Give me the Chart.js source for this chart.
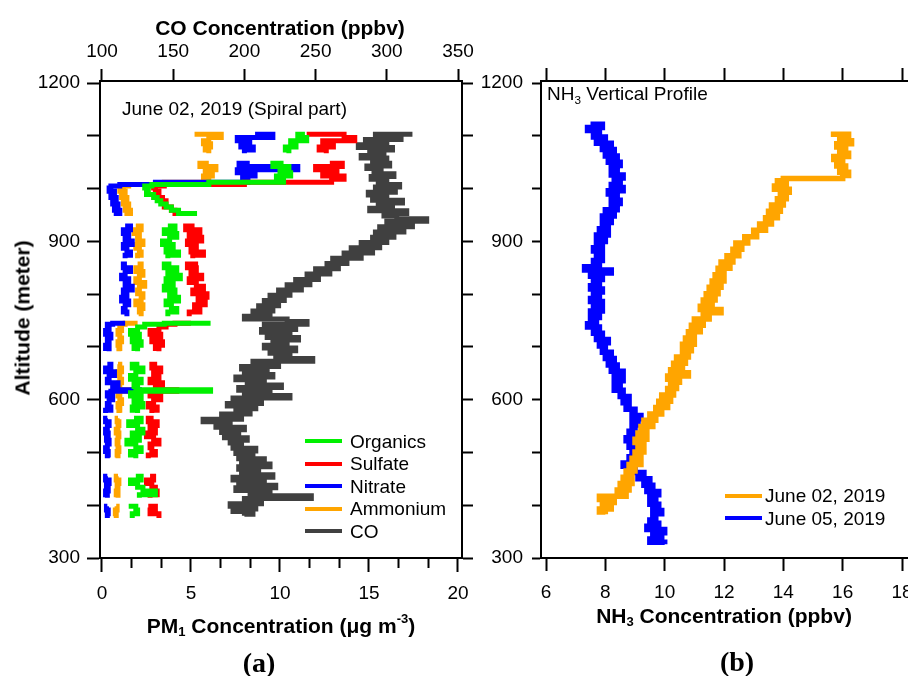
<!DOCTYPE html>
<html>
<head>
<meta charset="utf-8">
<title>PM1, CO and NH3 vertical profiles</title>
<script src="https://cdn.jsdelivr.net/npm/chart.js@4.4.1/dist/chart.umd.min.js"></script>
<style>
  html, body { margin: 0; padding: 0; background: #fff; }
  #page { position: relative; width: 908px; height: 676px; overflow: hidden;
          font-family: "Liberation Sans", Arial, sans-serif; color: #000; }
  canvas { position: absolute; top: 0; }
  #left { left: 0; }
  #right { left: 480px; }
  .lbl { position: absolute; white-space: nowrap; line-height: 1; transform: translate(-50%, -50%); }
  .ttl { font-weight: bold; font-size: 21px; }
  .note { position: absolute; font-size: 19px; line-height: 1; white-space: nowrap; }
  .panel { font-family: "Liberation Serif", "Times New Roman", serif; font-weight: bold; font-size: 28px; }
  sub, sup { font-size: 0.62em; line-height: 0; }
  sub { vertical-align: -0.3em; }
  sup { vertical-align: 0.75em; }
  .legend { position: absolute; font-size: 19px; line-height: 1; }
  .legend div { position: relative; height: 22.5px; width: 160px; white-space: nowrap; }
  .legend i { position: absolute; left: 0; top: 9.25px; width: 37px; height: 4px; }
  .legend span { position: absolute; top: 1.75px; }
</style>
</head>
<body>
<div id="page">
  <canvas id="left" width="480" height="676"></canvas>
  <canvas id="right" width="428" height="676"></canvas>

  <div class="lbl ttl" style="left:280px; top:27px;">CO Concentration (ppbv)</div>
  <div class="lbl ttl" style="left:22px; top:318px; transform: translate(-50%, -50%) rotate(-90deg);">Altitude (meter)</div>
  <div class="note" style="left:122px; top:99px;">June 02, 2019 (Spiral part)</div>
  <div class="lbl ttl" style="left:281px; top:625px;">PM<sub>1</sub> Concentration (μg m<sup>-3</sup>)</div>
  <div class="lbl panel" style="left:259px; top:663px;">(a)</div>

  <div class="note" style="left:547px; top:84px;">NH<sub>3</sub> Vertical Profile</div>
  <div class="lbl ttl" style="left:724px; top:615px;">NH<sub>3</sub> Concentration (ppbv)</div>
  <div class="lbl panel" style="left:737px; top:662px;">(b)</div>

  <div class="legend" id="legendA" style="left:305px; top:429.75px;"></div>
  <div class="legend" id="legendB" style="left:725px; top:484.5px;"></div>
</div>

<script>
// ---- panel (a): aerosol species, one altitude list shared by the four species (null = no data)
const altPM = [
  1103, 1097, 1091, 1085, 1079, 1073, 1067,
  1058,
  1048, 1042, 1036, 1030, 1024, 1018, 1012, 1008, 1005,
  1001, 995, 989, 983, 977, 971, 965, 959, 953, 948,
  938,
  929, 922, 915, 908, 901, 894, 887, 880, 874, 868,
  862,
  857, 850, 843, 836, 829, 822, 815, 808, 801, 794, 787, 780, 773, 766, 758,
  751,
  745, 743, 738, 731, 724, 717, 710, 703, 697, 692,
  680,
  667, 660, 653, 646, 639, 632, 625, 619, 616, 613, 607, 600, 593, 586, 580, 575,
  570,
  565, 558, 551, 544, 537, 530, 523, 516, 509, 502, 495, 489,
  472,
  455, 448, 441, 434, 427, 420, 414,
  406,
  398, 391, 384, 376
];

const organics = [
  11.4, 11.0, 11.5, 10.6, 10.9, 10.3, 10.5,
  null,
  10.2, 9.6, 10.5, 10.0, 10.6, 9.8, 10.2, 6.0, 2.8,
  2.4, 2.6, 2.5, 2.9, 3.1, 3.3, 3.6, 3.9, 4.3, 5.2,
  null,
  3.7, 4.1, 3.5, 4.2, 3.8, 3.4, 4.0, 3.6, 4.3, 3.7,
  null,
  3.9, 3.5, 4.2, 3.7, 4.4, 3.6, 4.0, 3.5, 4.1, 3.8, 4.3, 3.6, 3.9, 4.2, 3.7,
  null,
  6.1, 3.5, 2.4, 2.0, 1.6, 2.1, 1.7, 2.2, 1.8, 2.0,
  null,
  2.1, 1.7, 2.3, 1.9, 1.6, 2.2, 1.8, 2.0, 6.1, 1.9, 1.6, 2.2, 1.8, 2.3, 1.7, 2.0,
  null,
  1.8, 2.2, 1.5, 2.0, 2.3, 1.7, 2.1, 1.4, 1.9, 2.2, 1.6, 1.9,
  null,
  1.9, 2.2, 1.6, 2.0, 2.3, 3.0, 2.1,
  null,
  1.5, 1.9, 2.0, 1.7
];

const sulfate = [
  11.5, 13.6, 14.2, 12.4, 13.0, 12.2, 12.6,
  null,
  12.8, 13.5, 12.0, 13.2, 12.4, 13.6, 12.9, 8.0, 3.5,
  2.9, 3.0, 3.2, 3.1, 3.4, 3.6, 3.5, 3.9, 4.1, 4.4,
  null,
  5.2, 4.7, 5.5, 4.9, 5.6, 4.8, 5.3, 5.0, 5.7, 5.1,
  null,
  5.4, 4.8, 5.3, 5.0, 5.6, 4.9, 5.3, 5.7, 5.1, 5.9, 5.4, 5.8, 5.2, 5.5, 4.9,
  null,
  5.0, 4.1, 3.6, 3.2, 2.7, 3.3, 2.8, 3.4, 3.0, 3.2,
  null,
  3.1, 2.8, 3.3, 2.9, 3.2, 2.7, 3.4, 3.0, 4.2, 3.1, 2.7, 3.3, 2.9, 2.6, 3.1, 2.8,
  null,
  2.9, 2.6, 3.1, 2.7, 3.0, 2.5, 2.9, 3.2, 2.7, 2.8, 3.0, 2.6,
  null,
  2.7, 2.9, 2.5, 2.8, 3.0, 3.1, 2.7,
  null,
  2.6, 3.0, 2.7, 3.2
];

const nitrate = [
  8.6, 9.6, 7.6, 8.3, 7.8, 8.5, 8.0,
  null,
  8.3, 7.7, 11.0, 7.6, 8.6, 7.9, 8.2, 3.0, 1.0,
  0.5, 0.4, 0.7, 0.5, 0.8, 0.6, 0.9, 0.7, 1.0, 0.8,
  null,
  1.3, 1.6, 1.2, 1.5, 1.3, 1.7, 1.2, 1.4, 1.6, 1.3,
  null,
  1.4, 1.2, 1.6, 1.3, 1.1, 1.5, 1.3, 1.7, 1.2, 1.4, 1.1, 1.5, 1.3, 1.2, 1.4,
  null,
  1.3, 0.6, 0.3, 0.4, 0.2, 0.5, 0.3, 0.4, 0.2, 0.4,
  null,
  0.3, 0.5, 0.2, 0.7, 0.4, 0.3, 0.9, 0.6, 2.1, 0.5, 0.3, 0.6, 0.4, 0.3, 0.5, 0.2,
  null,
  0.3, 0.2, 0.4, 0.3, 0.2, 0.35, 0.25, 0.4, 0.3, 0.2, 0.35, 0.3,
  null,
  0.3, 0.2, 0.4, 0.25, 0.35, 0.2, 0.3,
  null,
  0.3, 0.25, 0.35, 0.3
];

const ammonium = [
  5.2, 6.7, 6.0, 5.7, 6.1, 5.8, 6.0,
  null,
  6.0, 5.5, 6.4, 5.8, 6.2, 5.7, 6.0, 3.5, 1.5,
  1.2, 1.0, 1.3, 1.1, 1.4, 1.2, 1.5, 1.3, 1.6, 1.4,
  null,
  1.9, 2.2, 1.8, 2.1, 2.0, 2.3, 1.9, 2.1, 2.2, 2.0,
  null,
  2.0, 2.2, 1.9, 2.3, 2.1, 1.9, 2.4, 2.1, 2.0, 2.3, 2.2, 1.9, 2.3, 2.1, 2.2,
  null,
  2.0, 1.3, 1.0, 1.1, 0.9, 1.0, 1.1, 0.9, 1.0, 0.95,
  null,
  0.9, 1.0, 1.1, 0.9, 1.0, 1.1, 0.95, 1.0, 1.9, 1.0, 0.9, 1.0, 1.1, 0.9, 1.0, 0.95,
  null,
  0.9, 0.85, 0.95, 0.9, 0.8, 0.95, 0.9, 0.85, 0.9, 0.95, 0.85, 0.9,
  null,
  0.9, 0.8, 0.95, 0.85, 0.9, 0.8, 0.9,
  null,
  0.8, 0.85, 0.75, 0.8
];

// ---- panel (a): CO (top axis)
const altCO = [
  1103, 1098, 1093, 1088, 1083, 1078, 1073, 1068, 1063, 1058,
  1053, 1048, 1043, 1038, 1033, 1028, 1023, 1018, 1013, 1008,
  1003, 998, 993, 988, 983, 978, 973, 968, 963, 958,
  953, 948, 943, 938, 933, 928, 923, 918, 913, 908,
  903, 898, 893, 888, 883, 878, 873, 868, 863, 858,
  853, 848, 843, 838, 833, 828, 823, 818, 813, 808,
  803, 798, 793, 788, 783, 778, 773, 768, 763, 758,
  753, 748, 743, 738, 733, 728, 723, 718, 713, 708,
  703, 698, 693, 688, 683, 678, 673, 668, 663, 658,
  653, 648, 643, 638, 633, 628, 623, 618, 613, 608,
  603, 598, 593, 588, 583, 578, 573, 568, 563, 558,
  553, 548, 543, 538, 533, 528, 523, 518, 513, 508,
  503, 498, 493, 488, 483, 478, 473, 468, 463, 458,
  453, 448, 443, 438, 433, 428, 423, 418, 413, 408,
  403, 398, 393, 388, 383, 380
];

const co = [
  318, 292, 310, 285, 300, 280, 304, 288, 298, 282,
  300, 290, 302, 286, 296, 291, 305, 289, 300, 294,
  309, 292, 306, 287, 300, 290, 311, 294, 304, 288,
  314, 298, 307, 328, 300, 318, 295, 312, 292, 305,
  290, 300, 282, 295, 275, 290, 270, 282, 262, 272,
  258, 266, 250, 260, 244, 252, 236, 246, 230, 240,
  224, 232, 218, 228, 214, 224, 210, 220, 206, 218,
  200, 230, 244, 214, 236, 212, 232, 216, 238, 220,
  230, 214, 236, 218, 232, 222, 248, 206, 224, 198,
  216, 200, 220, 194, 214, 202, 226, 196, 218, 200,
  232, 192, 212, 188, 208, 194, 204, 184, 198, 171,
  190, 180, 200, 184, 196, 186, 202, 190, 198, 192,
  208, 194, 206, 196, 214, 198, 218, 196, 210, 198,
  220, 192, 214, 196, 222, 194, 218, 204, 247, 200,
  212, 190, 208, 192, 206, 200
];

// ---- panel (b): NH3 profiles
const altJune02 = [
  1103, 1097, 1091, 1085, 1079, 1073, 1067, 1061, 1055, 1049,
  1043, 1037, 1031, 1025, 1019, 1015, 1011, 1005, 999, 993,
  987, 981, 975, 969, 963, 957, 951, 945, 939, 933,
  927, 921, 915, 909, 903, 897, 891, 885, 879, 873,
  867, 861, 855, 849, 843, 837, 831, 825, 819, 813,
  807, 801, 795, 789, 783, 777, 771, 765, 759, 753,
  747, 741, 735, 729, 723, 717, 711, 705, 699, 693,
  687, 681, 675, 669, 663, 657, 651, 645, 639, 633,
  627, 621, 615, 609, 603, 597, 591, 585, 579, 573,
  567, 561, 555, 549, 543, 537, 531, 525, 519, 513,
  507, 501, 495, 489, 483, 477, 471, 465, 459, 453,
  447, 441, 435, 429, 423, 417, 411, 405, 399, 393,
  387, 383
];

const nh3June02 = [
  15.6, 16.2, 15.9, 16.3, 15.8, 16.1, 15.9, 16.2, 15.7, 16.0,
  15.8, 16.1, 15.9, 16.2, 16.0, 14.0, 13.8, 14.1, 13.7, 14.2,
  13.9, 14.1, 13.8, 14.0, 13.6, 13.9, 13.5, 13.8, 13.4, 13.6,
  13.2, 13.4, 13.0, 13.1, 12.7, 12.8, 12.4, 12.6, 12.3, 12.5,
  12.1, 12.3, 11.9, 12.2, 11.8, 12.0, 11.7, 12.0, 11.6, 11.9,
  11.5, 11.8, 11.4, 11.7, 11.3, 11.6, 11.2, 11.9, 11.3, 11.5,
  11.0, 11.3, 10.9, 11.2, 10.8, 11.0, 10.7, 11.0, 10.6, 10.9,
  10.6, 10.8, 10.4, 10.7, 10.3, 10.6, 10.2, 10.8, 10.1, 10.5,
  10.2, 10.4, 10.1, 10.3, 9.9, 10.2, 9.8, 10.1, 9.7, 9.9,
  9.5, 9.7, 9.3, 9.6, 9.2, 9.4, 9.1, 9.4, 9.0, 9.3,
  9.1, 9.3, 9.0, 9.2, 8.9, 9.2, 8.8, 9.0, 8.7, 8.9,
  8.6, 8.9, 8.5, 8.8, 8.4, 8.7, 7.8, 8.3, 7.9, 8.2,
  7.8, 8.0
];

const altJune05 = [
  1122, 1116, 1110, 1104, 1098, 1092, 1086, 1080, 1074, 1068,
  1062, 1056, 1050, 1044, 1038, 1032, 1026, 1020, 1014, 1008,
  1002, 996, 990, 984, 978, 972, 966, 960, 954, 948,
  942, 936, 930, 924, 918, 912, 906, 900, 894, 888,
  882, 876, 870, 864, 858, 852, 846, 840, 834, 828,
  822, 816, 810, 804, 798, 792, 786, 780, 774, 768,
  762, 756, 750, 744, 738, 732, 726, 720, 714, 708,
  702, 696, 690, 684, 678, 672, 666, 660, 654, 648,
  642, 636, 630, 624, 618, 612, 606, 600, 594, 588,
  582, 576, 570, 564, 558, 552, 546, 540, 534, 528,
  522, 516, 510, 504, 498, 492, 486, 480, 474, 468,
  462, 456, 450, 444, 438, 432, 426, 420, 414, 408,
  402, 396, 390, 384, 378, 372, 366, 360, 354, 348,
  342, 336, 330, 326
];

const nh3June05 = [
  7.5, 7.9, 7.4, 7.8, 7.6, 8.0, 7.7, 8.2, 7.9, 8.3,
  8.0, 8.4, 8.1, 8.5, 8.2, 8.4, 8.2, 8.6, 8.3, 8.5,
  8.2, 8.6, 8.1, 8.4, 8.2, 8.5, 8.2, 8.4, 8.0, 8.3,
  7.9, 8.2, 7.9, 8.1, 7.8, 8.1, 7.7, 8.0, 7.7, 7.9,
  7.6, 7.9, 7.7, 7.9, 7.6, 7.8, 7.3, 8.2, 7.5, 7.9,
  7.6, 7.8, 7.5, 7.9, 7.6, 7.8, 7.5, 7.9, 7.6, 7.9,
  7.5, 7.8, 7.5, 7.7, 7.4, 7.8, 7.6, 7.9, 7.7, 8.1,
  7.8, 8.0, 7.9, 8.2, 8.0, 8.3, 8.1, 8.4, 8.2, 8.6,
  8.3, 8.6, 8.3, 8.5, 8.3, 8.6, 8.5, 8.8, 8.6, 8.8,
  8.7, 9.0, 8.9, 9.2, 8.9, 9.1, 8.9, 9.0, 8.8, 9.1,
  8.7, 8.9, 8.8, 9.1, 8.9, 9.1, 8.8, 9.0, 8.6, 9.0,
  8.8, 9.3, 9.1, 9.5, 9.3, 9.6, 9.4, 9.8, 9.5, 9.7,
  9.5, 9.8, 9.6, 9.9, 9.6, 9.7, 9.5, 9.8, 9.4, 10.0,
  9.6, 9.9, 9.5, 10.0
];

// ---- axes ticks / labels
const altTicks = [300, 400, 500, 600, 700, 800, 900, 1000, 1100, 1200];
const altLabels = [300, 600, 900, 1200];
const pmTicks = [0, 5, 10, 15, 20];
const pmMinorPerMajor = 3;
const coTicks = [100, 150, 200, 250, 300, 350];
const nh3Ticks = [6, 8, 10, 12, 14, 16, 18];

const speciesNames = ['Organics', 'Sulfate', 'Nitrate', 'Ammonium', 'CO'];
const dayNames = ['June 02, 2019', 'June 05, 2019'];

const colOrg = '#00f000', colSO4 = '#ff0000', colNO3 = '#0000ff', colNH4 = '#ffa500', colCO = '#404040';
const ink = '#000000';
const tickFont = { family: "'Liberation Sans', Arial, sans-serif", size: 19 };

// bottom PM axis: majors plus two minor ticks between them
const pmAllTicks = [];
pmTicks.forEach((v, i) => {
  pmAllTicks.push(v);
  if (i < pmTicks.length - 1) {
    for (let k = 1; k < pmMinorPerMajor; k++) pmAllTicks.push(v + (pmTicks[i + 1] - v) * k / pmMinorPerMajor);
  }
});

function profile(label, values, alts, color, width, xAxisID) {
  return {
    label: label,
    data: values.map((v, i) => ({ x: v, y: alts[i] })),
    xAxisID: xAxisID,
    yAxisID: 'y',
    borderColor: color,
    backgroundColor: color,
    borderWidth: width,
    pointRadius: 0,
    stepped: true,
    spanGaps: false,
    fill: false,
    borderJoinStyle: 'miter'
  };
}

function axis(position, min, max, tickValues, boxSize, tickLength, padding, labelFn) {
  const horizontal = position === 'top' || position === 'bottom';
  return {
    type: 'linear',
    position: position,
    min: min,
    max: max,
    afterBuildTicks: s => { s.ticks = tickValues.map(v => ({ value: v })); },
    afterFit: s => {
      if (horizontal) { s.height = boxSize; s.paddingLeft = 0; s.paddingRight = 0; }
      else { s.width = boxSize; s.paddingTop = 0; s.paddingBottom = 0; }
    },
    grid: { drawOnChartArea: false, drawTicks: true, tickLength: tickLength, tickWidth: 2, tickColor: ink },
    border: { display: true, color: ink, width: 2 },
    ticks: {
      display: !!labelFn,
      font: tickFont,
      color: ink,
      padding: padding,
      maxRotation: 0,
      minRotation: 0,
      autoSkip: false,
      callback: labelFn || (() => '')
    },
    title: { display: false }
  };
}

const altLabel = v => altLabels.includes(v) ? String(v) : '';

// panel (a)
const pmAxis = axis('bottom', -0.112, 20.225, pmAllTicks, 118, 14, 10, v => pmTicks.includes(v) ? String(v) : '');
pmAxis.grid.tickBorderDash = ctx => (ctx.tick && !pmTicks.includes(ctx.tick.value)) ? [9, 40] : [];

new Chart(document.getElementById('left'), {
  type: 'line',
  data: {
    datasets: [
      profile(speciesNames[0], organics, altPM, colOrg, 5, 'x'),
      profile(speciesNames[1], sulfate, altPM, colSO4, 5, 'x'),
      profile(speciesNames[2], nitrate, altPM, colNO3, 5, 'x'),
      profile(speciesNames[3], ammonium, altPM, colNH4, 5, 'x'),
      profile(speciesNames[4], co, altCO, colCO, 5, 'x2')
    ]
  },
  options: {
    responsive: false,
    animation: false,
    events: [],
    indexAxis: 'y',
    layout: { padding: 0 },
    plugins: { legend: { display: false }, tooltip: { enabled: false } },
    scales: {
      x: pmAxis,
      x2: axis('top', 98.6, 352.8, coTicks, 81, 12, 6, v => String(v)),
      y: axis('left', 300, 1204, altTicks, 100, 13, 7, altLabel),
      y2: axis('right', 300, 1204, altTicks, 18, 11, 0, null)
    }
  }
});

// panel (b)
new Chart(document.getElementById('right'), {
  type: 'line',
  data: {
    datasets: [
      profile(dayNames[0], nh3June02, altJune02, colNH4, 5.5, 'x'),
      profile(dayNames[1], nh3June05, altJune05, '#0000ff', 5.5, 'x')
    ]
  },
  options: {
    responsive: false,
    animation: false,
    events: [],
    indexAxis: 'y',
    layout: { padding: 0 },
    plugins: { legend: { display: false }, tooltip: { enabled: false } },
    scales: {
      x: axis('bottom', 5.831, 18.202, nh3Ticks, 118, 13, 10, v => String(v)),
      x2: axis('top', 5.831, 18.202, nh3Ticks, 81, 13, 0, null),
      y: axis('left', 300, 1204, altTicks, 61, 9, 9, altLabel)
    }
  }
});

// legends
function fillLegend(id, names, colors, textLeft) {
  const box = document.getElementById(id);
  names.forEach((n, i) => {
    const row = document.createElement('div');
    row.innerHTML = '<i style="background:' + colors[i] + '"></i><span style="left:' + textLeft + 'px">' + n + '</span>';
    box.appendChild(row);
  });
}
fillLegend('legendA', speciesNames, [colOrg, colSO4, colNO3, colNH4, colCO], 45);
fillLegend('legendB', dayNames, [colNH4, '#0000ff'], 40);
</script>
</body>
</html>
